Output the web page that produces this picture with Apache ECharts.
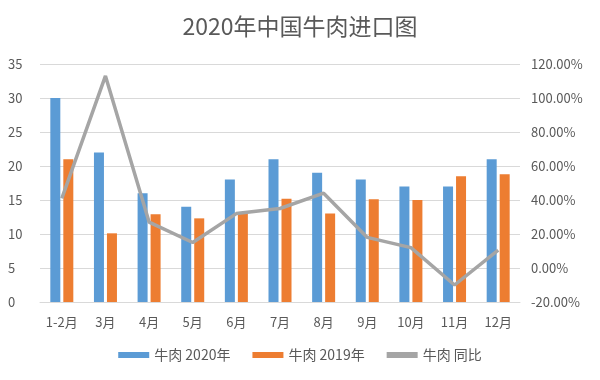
<!DOCTYPE html>
<html>
<head>
<meta charset="utf-8">
<script src="https://cdn.jsdelivr.net/npm/echarts@6/dist/echarts.min.js"></script>
<style>html,body{margin:0;padding:0;background:#fff}#c{width:600px;height:380px}</style>
</head>
<body>
<div id="c"></div>
<script>
const categories = ['1-2月','3月','4月','5月','6月','7月','8月','9月','10月','11月','12月'];
const beef2020 = [30, 22, 16, 14, 18, 21, 19, 18, 17, 17, 21];
const beef2019 = [21, 10.1, 12.9, 12.3, 13.1, 15.2, 13, 15.1, 15, 18.5, 18.8];
const yoy = [41, 113, 27, 15, 32, 35, 44, 18, 12, -10, 10.5];
const leftTicks = {min: 0, max: 35, interval: 5};
const rightTicks = {min: -20, max: 120, interval: 20};

const font = '"Noto Sans CJK SC", "Noto Sans", sans-serif';
const chart = echarts.init(document.getElementById('c'));
chart.setOption({
  animation: false,
  textStyle: {fontFamily: font},
  title: {text: '2020年中国牛肉进口图', left: 'center', top: 10,
    textStyle: {fontSize: 23, fontWeight: 'normal', color: '#595959', fontFamily: font}},
  legend: {bottom: 13, left: 'center', itemGap: 22, itemWidth: 31, itemHeight: 6,
    textStyle: {fontSize: 14, color: '#595959', fontFamily: font},
    data: [{name: '牛肉 2020年', icon: 'rect'}, {name: '牛肉 2019年', icon: 'rect'}, {name: '牛肉 同比', icon: 'rect'}]},
  grid: {left: 40, right: 80, top: 64, bottom: 78},
  xAxis: {type: 'category', data: categories,
    axisLine: {lineStyle: {color: '#d9d9d9'}}, axisTick: {show: false},
    axisLabel: {color: '#595959', fontSize: 13, margin: 14}},
  yAxis: [
    {type: 'value', min: leftTicks.min, max: leftTicks.max, interval: leftTicks.interval,
      axisLine: {show: false}, axisTick: {show: false},
      axisLabel: {color: '#595959', fontSize: 13, margin: 32, align: 'left'},
      splitLine: {lineStyle: {color: '#d9d9d9'}}},
    {type: 'value', min: rightTicks.min, max: rightTicks.max, interval: rightTicks.interval,
      axisLine: {show: false}, axisTick: {show: false},
      axisLabel: {color: '#595959', fontSize: 13, margin: 11, formatter: v => v.toFixed(2) + '%'},
      splitLine: {show: false}}
  ],
  series: [
    {name: '牛肉 2020年', type: 'bar', data: beef2020, barWidth: 10, barGap: '30%',
      itemStyle: {color: '#5B9BD5'}},
    {name: '牛肉 2019年', type: 'bar', data: beef2019, barWidth: 10, barGap: '30%',
      itemStyle: {color: '#ED7D31'}},
    {name: '牛肉 同比', type: 'line', yAxisIndex: 1, data: yoy, symbol: 'none',
      lineStyle: {color: '#A5A5A5', width: 3.5}, itemStyle: {color: '#A5A5A5'}}
  ]
});
</script>
</body>
</html>
